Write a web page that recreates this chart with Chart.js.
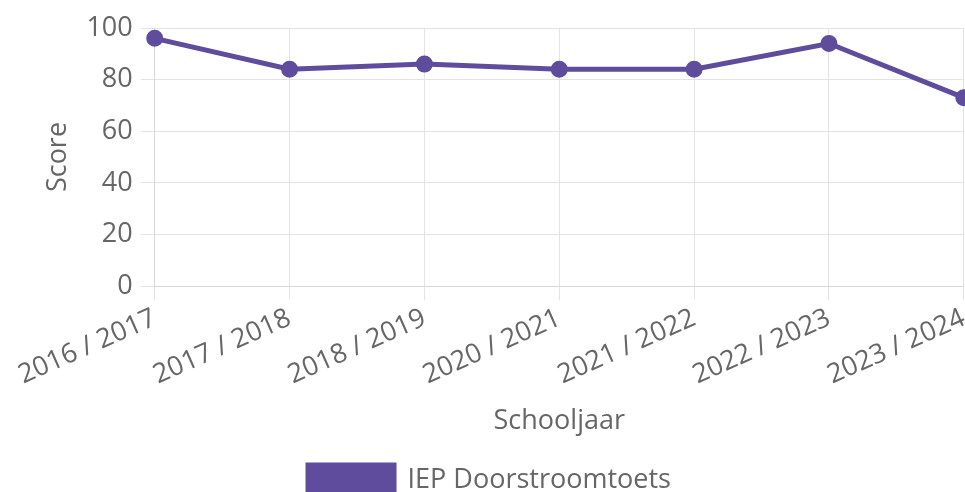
<!DOCTYPE html>
<html>
<head>
<meta charset="utf-8">
<script src="https://cdn.jsdelivr.net/npm/chart.js@4.4.1/dist/chart.umd.min.js"></script>
<style>
  html, body { margin: 0; padding: 0; background: #fff; overflow: hidden; }
  #wrap { width: 965px; height: 492px; overflow: hidden; }
  #inner { width: 979px; height: 505px; position: relative; }
</style>
</head>
<body>
<div id="wrap"><div id="inner"><canvas id="chartScore"></canvas></div></div>
<script>
// Schooljaren en scores zoals
const SCHOOLJAREN = ['2016 / 2017', '2017 / 2018', '2018 / 2019', '2020 / 2021', '2021 / 2022', '2022 / 2023', '2023 / 2024'];
const SCORES_IEP = [96, 84, 86, 84, 84, 94, 73];
const Y_TICKS = [0, 20, 40, 60, 80, 100];

const PAARS = '#604c9c';
const GRIJS_TEKST = '#666666';
const FONT = "'Open Sans', Lato, sans-serif";
const FONT_SIZE = 27;

Chart.defaults.font.family = FONT;
Chart.defaults.color = GRIJS_TEKST;

new Chart(document.getElementById('chartScore').getContext('2d'), {
    type: 'line',
    data: {
        labels: SCHOOLJAREN,
        datasets: [{
            label: 'IEP Doorstroomtoets',
            data: SCORES_IEP,
            borderColor: PAARS,
            backgroundColor: PAARS,
            borderWidth: 5,
            pointRadius: 6,
            pointBackgroundColor: PAARS,
            pointBorderColor: PAARS,
            tension: 0,
            fill: false,
        }],
    },
    options: {
        responsive: true,
        maintainAspectRatio: false,
        animation: false,
        layout: { padding: { left: 0, top: 28, right: 0, bottom: 0 } },
        plugins: {
            legend: {
                display: true,
                position: 'bottom',
                labels: { boxWidth: 86, boxHeight: 30, font: { size: FONT_SIZE }, color: GRIJS_TEKST },
            },
            tooltip: { enabled: false },
        },
        scales: {
            x: {
                grid: { color: '#e3e3e3', tickLength: 14 },
                border: { color: '#d8d8d8' },
                ticks: { font: { size: FONT_SIZE }, minRotation: 24, maxRotation: 24, padding: 2 },
                title: { display: true, text: 'Schooljaar', font: { size: FONT_SIZE }, padding: { top: 12, bottom: 17 } },
            },
            y: {
                min: 0,
                max: 100,
                afterBuildTicks: (axis) => { axis.ticks = Y_TICKS.map(v => ({ value: v })); },
                grid: { color: '#e3e3e3', tickLength: 14 },
                border: { color: '#d8d8d8' },
                ticks: { font: { size: FONT_SIZE }, padding: 8 },
                title: { display: true, text: 'Score', font: { size: FONT_SIZE }, padding: { top: 42, bottom: 4 } },
            },
        },
    },
});
</script>
</body>
</html>
